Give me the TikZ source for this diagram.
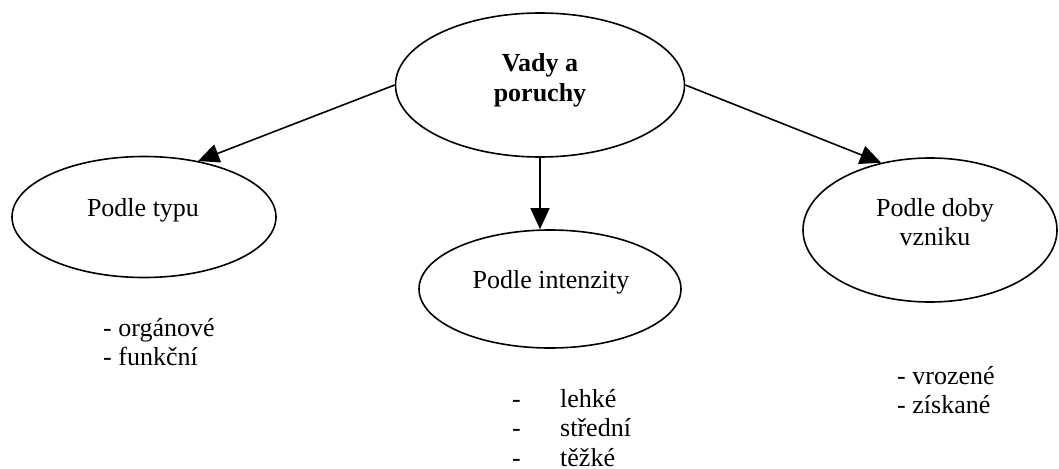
\documentclass[tikz,border=0pt]{standalone}
\usepackage{fontspec}
\setmainfont{Liberation Serif}
\usetikzlibrary{shapes.geometric,arrows.meta}
\tikzset{
  oval/.style={draw=black,line width=1.6pt,ellipse,inner sep=0pt},
  lbl/.style={font=\fontsize{26}{29.5}\selectfont,inner sep=0pt,align=center,anchor=base},
  lst/.style={font=\fontsize{26}{29.5}\selectfont,inner sep=0pt,align=left,anchor=base west},
  arr/.style={line width=1.6pt,-{Triangle[length=21pt,width=19pt]}}
}
\begin{document}
\begin{tikzpicture}[x=1pt,y=-1pt]
\useasboundingbox (0,0) rectangle (1059,468);
\node[oval,minimum width=289pt,minimum height=144pt] (T) at (540,85) {};
\node[oval,minimum width=264pt,minimum height=121pt] (L) at (144,217) {};
\node[oval,minimum width=262pt,minimum height=118pt] (M) at (550,289) {};
\node[oval,minimum width=254pt,minimum height=144pt] (R) at (930,230) {};
\node[lbl,font=\fontsize{26}{30}\selectfont\bfseries] (Tt) at (540,102) {Vady a\\poruchy};
\node[lbl] (Lt) at (143,216) {Podle typu};
\node[lbl] (Mt) at (551,288) {Podle intenzity};
\node[lbl] (Rt) at (935,245.5) {Podle doby\\vzniku};
\node[lst] (Ll) at (103,365.5) {- orgánové\\- funkční};
\node[lst] (Rl) at (897,413.5) {- vrozené\\- získané};
\node[lst] (Md) at (512,466) {-\\-\\-};
\node[lst] (Mw) at (560,466) {lehké\\střední\\těžké};
\draw[arr] (T.west) -- (L.46);
\draw[arr] (T.east) -- (R.126);
\draw[arr] (T.south) -- (T.south |- M.north);
\end{tikzpicture}
\end{document}
